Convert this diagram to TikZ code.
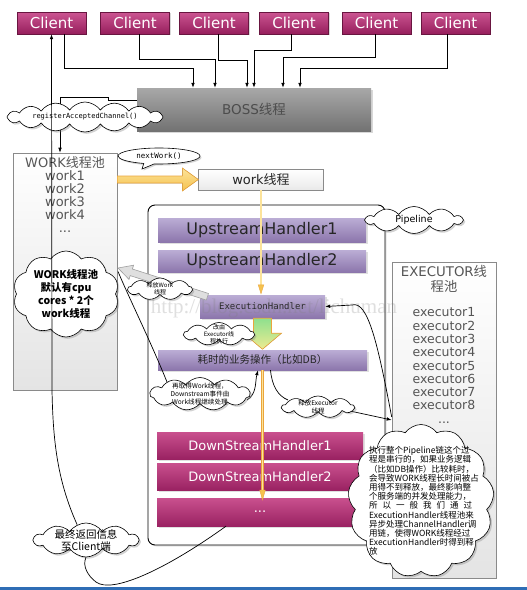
\documentclass[tikz,border=0pt]{standalone}
\usepackage{fontspec}
\setmainfont{DejaVu Sans}
\newfontfamily\cjk{Noto Sans CJK SC}
\newfontfamily\monof{DejaVu Sans Mono}
\newfontfamily\wmserif{Liberation Serif}
\usetikzlibrary{shapes.symbols,shapes.callouts,shadows,arrows.meta,calc}
\newcommand{\fsz}[2]{\fontsize{#1}{#2}\selectfont}
\definecolor{cliTop}{HTML}{CC5592}
\definecolor{cliBot}{HTML}{961E5C}
\definecolor{dsTop}{HTML}{C9508E}
\definecolor{dsBot}{HTML}{9A2262}
\definecolor{upTop}{HTML}{BBADD5}
\definecolor{upBot}{HTML}{8C76AC}
\definecolor{bossTop}{HTML}{A8A8A8}
\definecolor{bossBot}{HTML}{727272}
\definecolor{poolLine}{HTML}{8A8A8A}
\definecolor{poolBot}{HTML}{E4E4E4}
\definecolor{grayTxt}{HTML}{555555}
\definecolor{darkTxt}{HTML}{262626}
\definecolor{ylLine}{HTML}{EBA53C}
\definecolor{ylFill}{HTML}{FCE39A}
\definecolor{ylDeep}{HTML}{F5C24E}
\definecolor{grnTop}{HTML}{8EE08E}
\definecolor{grnBot}{HTML}{EDEB92}
\definecolor{blueLine}{HTML}{2F6DB5}
\begin{document}
\begin{tikzpicture}[x=1pt,y=-1pt,
  client/.style={top color=cliTop, bottom color=cliBot, draw=cliBot!70!black, line width=0.3pt,
    text=white, minimum width=69pt, minimum height=22pt, inner sep=0pt, font=\fsz{15}{18},
    drop shadow={opacity=0.3,shadow xshift=1pt,shadow yshift=-1pt}},
  ups/.style={top color=upTop, bottom color=upBot, text=darkTxt, inner sep=0pt,
    drop shadow={opacity=0.25,shadow xshift=1.5pt,shadow yshift=-1.5pt}},
  downs/.style={top color=dsTop, bottom color=dsBot, text=white, inner sep=0pt,
    minimum width=206pt, minimum height=27pt, font=\fsz{13}{15},
    drop shadow={opacity=0.25,shadow xshift=1.5pt,shadow yshift=-1.5pt}},
  pool/.style={draw=poolLine, top color=white, bottom color=poolBot, line width=0.6pt, inner sep=0pt},
  cl/.style={cloud, cloud puffs=#1, cloud puff arc=110, cloud ignores aspect, draw, fill=white, inner sep=0pt,
    line width=0.6pt, drop shadow={opacity=0.35,shadow xshift=1.8pt,shadow yshift=-1.8pt}},
  cl/.default=11,
  ctext/.style={align=center, inner sep=0pt, text=black},
  ln/.style={line width=0.7pt},
  arr/.style={ln, -{Latex[length=5pt,width=3.6pt]}},
  yl/.style={draw=ylLine, double=ylFill, double distance=1.3pt, line width=0.7pt},
  yltip/.style={fill=ylDeep, draw=ylLine, line width=0.4pt},
]
\useasboundingbox (0,0) rectangle (527,590);
\fill[white] (0,0) rectangle (527,590);
\fill[blueLine] (0,587) rectangle (527,589.5);

% containers
\node[draw, line width=0.9pt, rounded corners=7pt, fill=white, minimum width=237pt, minimum height=340pt,
  inner sep=0pt, drop shadow={opacity=0.2,shadow xshift=1.5pt,shadow yshift=-1.5pt}] (pipebox) at (266.5,375) {};
\node[pool, minimum width=104pt, minimum height=237pt] (workpool) at (65,271.5) {};
\node[anchor=north, align=center, inner sep=0pt, text=grayTxt, font=\fsz{13}{13}] (wptext) at (65,156)
  {WORK{\cjk 线程池}\\work1\\work2\\work3\\work4\\...};
\node[pool, minimum width=104pt, minimum height=316pt] (execpool) at (444,420) {};
\node[anchor=north, align=center, inner sep=0pt, text=grayTxt, font=\fsz{13.3}{14.5}] (eptitle) at (444,265.5)
  {EXECUTOR{\cjk 线}\\{\cjk 程池}};
\node[anchor=north, align=center, inner sep=0pt, text=grayTxt, font=\fsz{12.5}{13.3}] (eptext) at (444,307.5)
  {executor1\\executor2\\executor3\\executor4\\executor5\\executor6\\executor7\\executor8\\...};

% clients and boss
\node[client] (c1) at (51.5,23) {Client};
\node[client] (c2) at (135,23) {Client};
\node[client] (c3) at (214,23) {Client};
\node[client] (c4) at (294,23) {Client};
\node[client] (c5) at (376.5,23) {Client};
\node[client] (c6) at (455.5,23) {Client};
\node[top color=bossTop, bottom color=bossBot, minimum width=234pt, minimum height=43pt, inner sep=0pt,
  text=grayTxt!90!black, font=\fsz{13.5}{16}, drop shadow={opacity=0.3,shadow xshift=1.5pt,shadow yshift=-1.5pt}]
  (boss) at (254,109.5) {BOSS{\cjk 线程}};
\node[draw=poolLine, top color=white, bottom color=poolBot!80, minimum width=125pt, minimum height=21pt,
  inner sep=0pt, text=darkTxt, font=\fsz{13}{15}] (workthr) at (261,179.5) {work{\cjk 线程}};

% client connectors
\draw[arr] (64,0 |- c1.south) |- (193,68) -- (193,0 |- boss.north);
\draw[arr] (139,0 |- c2.south) |- (215,59) -- (215,0 |- boss.north);
\draw[arr] (218,0 |- c3.south) |- (247,60) -- (247,0 |- boss.north);
\draw[arr] (291,0 |- c4.south) |- (254,50) -- (254,0 |- boss.north);
\draw[arr] (375,0 |- c5.south) |- (283,57) -- (283,0 |- boss.north);
\draw[arr] (447,0 |- c6.south) |- (300,68) -- (300,0 |- boss.north);
\draw[arr] (boss.west |- 0,100) -- (108,100) -- (108,97) -- (60,97) -- (60,0 |- workpool.north);

% handlers
\node[ups, minimum width=208pt, minimum height=24pt, font=\fsz{16}{18}] (up1) at (262,230) {UpstreamHandler1};
\node[ups, minimum width=208pt, minimum height=22pt, font=\fsz{16}{18}] (up2) at (262,261) {UpstreamHandler2};
\node[ups, minimum width=125pt, minimum height=23pt, font=\monof\fsz{9}{11}] (exech) at (262.5,306.5) {ExecutionHandler};
\node[ups, minimum width=209pt, minimum height=20pt, font=\cjk\fsz{10.5}{12}] (hs) at (262.5,360) {耗时的业务操作（比如DB）};
\node[downs] (ds1) at (260,445.5) {DownStreamHandler1};
\node[downs] (ds2) at (260,476.5) {DownStreamHandler2};
\node[downs, minimum height=28pt] (ds3) at (260,512) {...};

% watermark
\node[text=gray, text opacity=0.25, font=\wmserif\fsz{21}{24}, inner sep=0pt] (wm) at (274,308) {http://blog.csdn.net/lichuman};

% yellow flow
\coordinate (y1e) at (workthr.south |- exech.north);
\draw[yl, shorten >=9pt] (workthr.south) -- (y1e);
\filldraw[yltip] ($(y1e)+(-2.8,-10)$) -- ($(y1e)+(0,-1)$) -- ($(y1e)+(2.8,-10)$) -- cycle;
\coordinate (y2e) at (262.5,500);
\draw[yl, shorten >=9pt] (hs.south) -- (y2e);
\filldraw[yltip] ($(y2e)+(-2.8,-10)$) -- (y2e) -- ($(y2e)+(2.8,-10)$) -- cycle;
\coordinate (fa) at (workpool.east |- workthr.west);
\filldraw[top color=ylFill, bottom color=ylDeep, draw=ylLine, line width=0.6pt]
  ($(fa)+(0,-3.5)$) -- ($(fa)+(65,-3.5)$) -- ($(fa)+(65,-11.5)$) -- (workthr.west)
  -- ($(fa)+(65,11.5)$) -- ($(fa)+(65,3.5)$) -- ($(fa)+(0,3.5)$) -- cycle;
\filldraw[top color=grnTop, bottom color=grnBot, draw=ylLine, line width=0.6pt]
  ($(exech.south)+(-9,0)$) -- ($(exech.south)+(9,0)$) -- ($(exech.south)+(9,15)$) -- ($(exech.south)+(19,15)$)
  -- ($(exech.south)+(0,31)$) -- ($(exech.south)+(-19,15)$) -- ($(exech.south)+(-9,15)$) -- cycle;
% gray hollow arrow: release work thread
\filldraw[fill=gray!25, draw=gray!75, line width=0.6pt]
  (118,268) -- (133.6,265.2) -- (132.4,269.0) -- (208.5,293.5) -- (206.3,300.1) -- (130.2,275.6) -- (129.0,279.4) -- cycle;

% thin connectors
\coordinate (wpin) at (118,271.5);
\draw[ln] (167,382) .. controls (150,340) and (130,300) .. (wpin);
\draw[arr] (247,400) .. controls (257,394) and (255,382) .. ([xshift=-4.5pt]hs.south);
\draw[ln] ([xshift=8pt]hs.south) .. controls (272,386) and (278,396) .. (288,400);
\draw[arr] (350,411) -- (execpool.west);
\draw[arr] ([yshift=3pt]execpool.west) .. controls (378,345) and (368,300) .. (352,305) -- (exech.east);

% clouds
\node[cl=16, minimum width=156pt, minimum height=30pt] (reg) at (85,117) {};
\node[ctext, font=\monof\fsz{7}{8}] at (reg) {registerAcceptedChannel()};
\node[ellipse callout, draw, fill=white, line width=0.6pt, minimum width=82pt, minimum height=16pt, inner sep=0pt,
  callout absolute pointer={(142,169)}, font=\monof\fsz{7.5}{9},
  drop shadow={opacity=0.35,shadow xshift=1.5pt,shadow yshift=-1.5pt}] (nw) at (159,156) {nextWork()};
\node[cl=10, minimum width=106pt, minimum height=86pt] (wcl) at (66,294) {};
\node[ctext, font=\cjk\bfseries\fsz{10.5}{12.7}] at (wcl) {WORK线程池\\默认有cpu\\cores * 2个\\work线程};
\node[cl=9, minimum width=64pt, minimum height=22pt] (relw) at (160,289) {};
\node[ctext, font=\cjk\fsz{6}{7}] at (relw) {释放Work\\线程};
\node[cl=9, minimum width=70pt, minimum height=23pt] (gaiyou) at (219,334) {};
\node[ctext, font=\cjk\fsz{6}{6.8}] at (gaiyou) {改由\\Executor线\\程执行};
\node[cl=11, minimum width=100pt, minimum height=33pt] (zaiqu) at (200,394) {};
\node[ctext, font=\cjk\fsz{6.6}{7.6}] at (zaiqu) {再取得Work线程，\\Downstream事件由\\Work线程继续处理};
\node[cl=9, minimum width=72pt, minimum height=22pt] (relex) at (318,407) {};
\node[ctext, font=\cjk\fsz{6.5}{7.2}] at (relex) {释放Executor\\线程};
\node[cl=10, minimum width=96pt, minimum height=27pt] (pipe) at (414,220) {};
\node[ctext, font=\fsz{9.5}{11}] at (pipe) {Pipeline};
\node[cl=13, minimum width=146pt, minimum height=153pt] (big) at (421,501) {};
\node[ctext, align=left, font=\cjk\fsz{8.5}{9.2}] at (424,501) {执行整个Pipeline链这个过\\程是串行的，如果业务逻辑\\（比如DB操作）比较耗时，\\会导致WORK线程长时间被占\\用得不到释放，最终影响整\\个服务端的并发处理能力，\\\makebox[103pt][s]{所 以 一 般 我 们 通 过}\\ExecutionHandler线程池来\\异步处理ChannelHandler调\\用链，使得WORK线程经过\\ExecutionHandler时得到释\\放};
\node[cl=10, minimum width=104pt, minimum height=34pt] (fin) at (86,540) {};
\node[ctext, font=\cjk\fsz{10.5}{12}] at (fin) {最终返回信息\\至Client端};

% return path to client
\draw[ln] ([xshift=-34pt]ds3.south) .. controls (165,570) and (112,594) .. (96,582) .. controls (88,576) and (82,566) .. (fin.south);
\draw[arr] (fin.120) .. controls (57,480) and (53,440) .. (52,390) -- (c1.south);
\end{tikzpicture}
\end{document}
